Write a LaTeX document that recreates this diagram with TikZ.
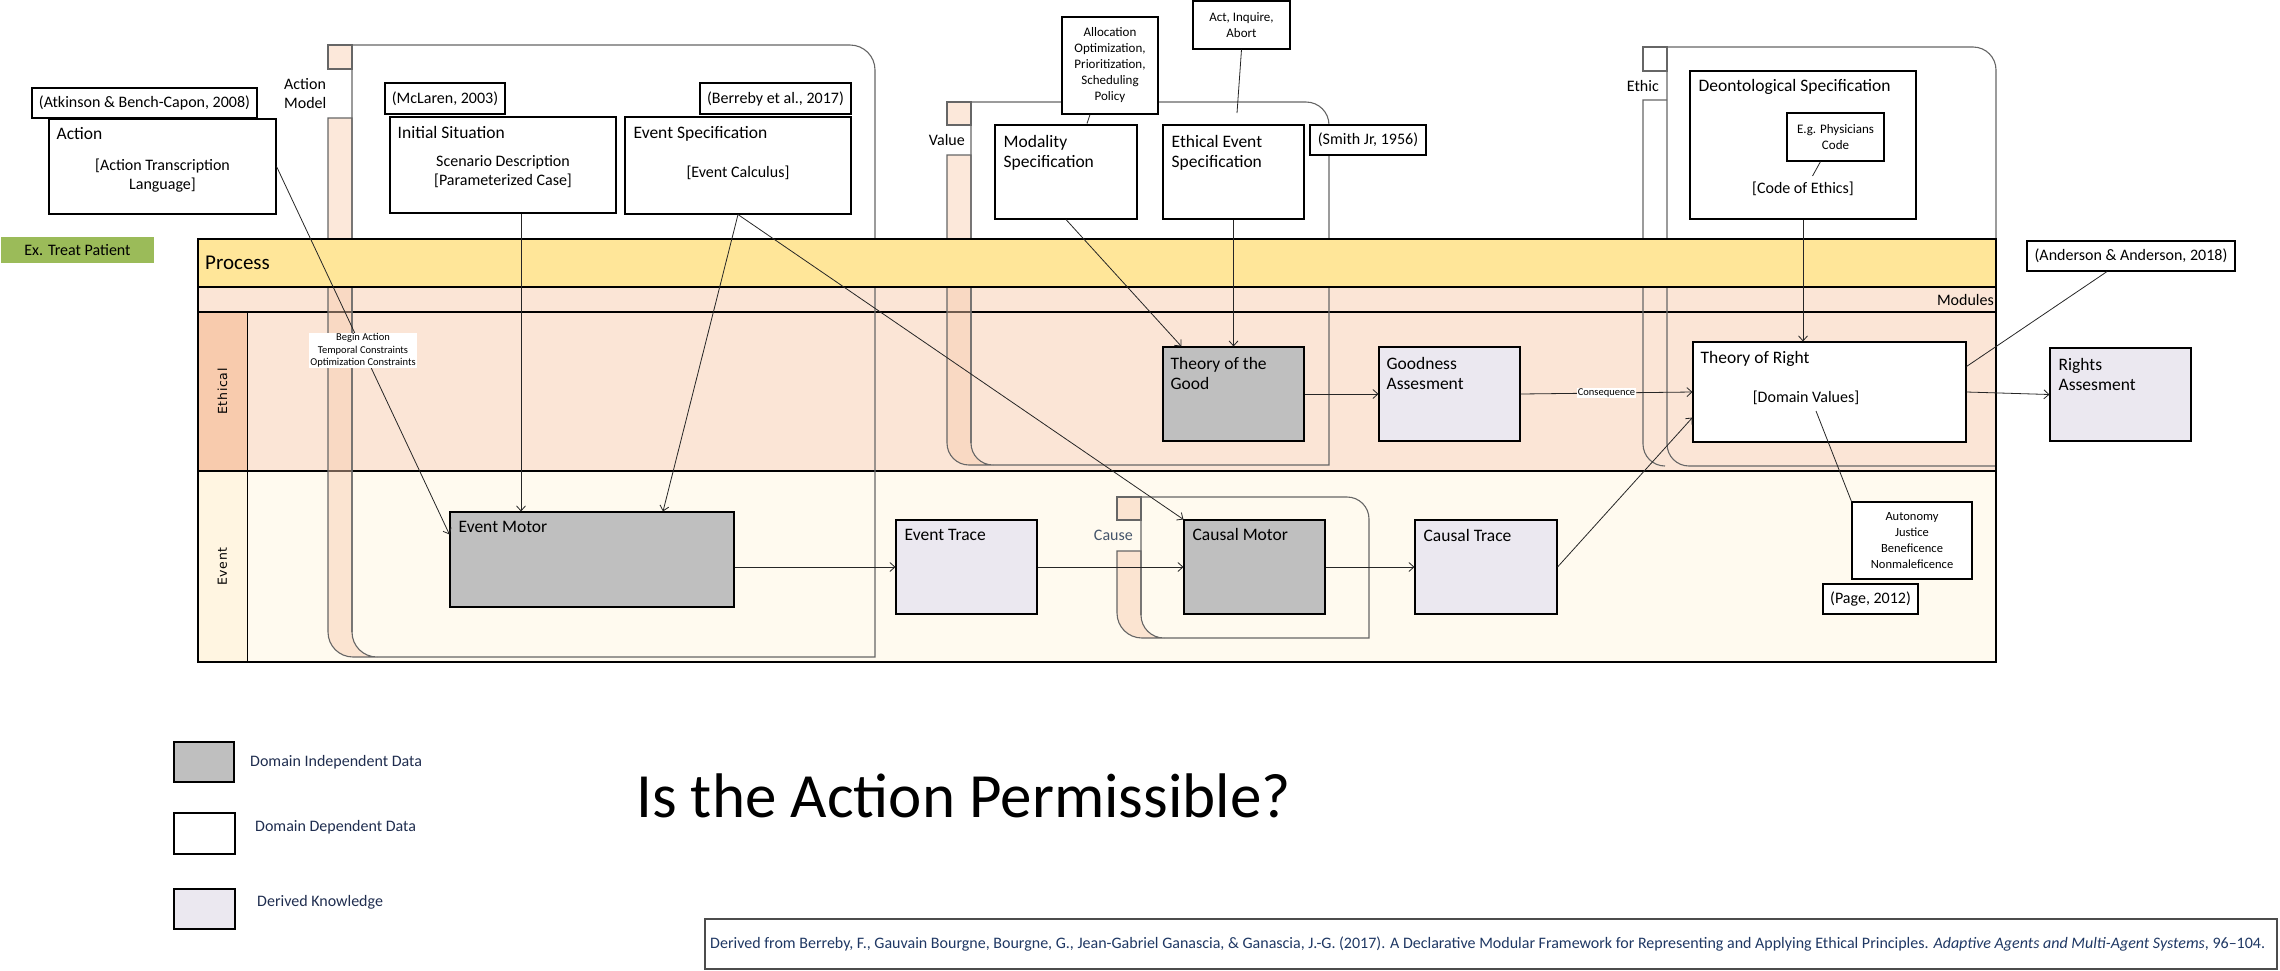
\documentclass[tikz,border=0pt]{standalone}
\usepackage{fontspec}
\setmainfont{Carlito}
\newfontfamily\lanefont[LetterSpace=6]{DejaVu Sans}
\usetikzlibrary{arrows.meta,calc}
\definecolor{procY}{HTML}{FFE699}
\definecolor{lanePeach}{HTML}{FBE5D6}
\definecolor{hdrPeach}{HTML}{F8CBAD}
\definecolor{laneCream}{HTML}{FFFAEF}
\definecolor{hdrCream}{HTML}{FFF5E1}
\definecolor{grayD}{HTML}{BFBFBF}
\definecolor{lav}{HTML}{EBE8F0}
\definecolor{treatG}{HTML}{9BBB59}
\definecolor{causeC}{HTML}{44546A}
\definecolor{citeC}{HTML}{1F3864}
\definecolor{legC}{HTML}{1F2D4F}
\begin{document}
\begin{tikzpicture}[x=1pt,y=-1pt,
  box/.style={draw=black, line width=1.1pt, inner sep=0pt, fill=white},
  gbox/.style={box, fill=grayD},
  lbox/.style={box, fill=lav},
  ttl/.style={font=\fontsize{17.5}{19.5}\selectfont, anchor=north west, inner sep=0pt, align=left},
  bodytxt/.style={font=\fontsize{16}{19}\selectfont, inner sep=0pt, align=center},
  refbox/.style={box, font=\fontsize{16}{19}\selectfont},
  smalltxt/.style={box, font=\fontsize{13}{16}\selectfont, align=center},
  tinylbl/.style={fill=white, inner sep=1pt, font=\fontsize{10.5}{12.5}\selectfont, align=center},
  conn/.style={line width=0.8pt, draw=black!85},
  arr/.style={conn, -{Straight Barb[length=5pt,width=9pt]}},
  cont/.style={draw=black!60, line width=1.1pt},
  stripc/.style={fill=hdrPeach, fill opacity=0.45, draw=black!60, line width=1.1pt},
  lanelbl/.style={font=\lanefont\fontsize{12.5}{14}\selectfont, inner sep=0pt},
  contlbl/.style={font=\fontsize{16}{19}\selectfont, inner sep=0pt, align=left},
  legtxt/.style={font=\fontsize{16}{19}\selectfont, inner sep=0pt, text=legC}
]
\useasboundingbox (0,0) rectangle (2280,970);

% ---------------- lanes ----------------
\fill[lanePeach] (198,287) rectangle (1996,471);
\fill[hdrPeach] (198,312) rectangle (247,471);
\fill[laneCream] (198,471) rectangle (1996,662);
\fill[hdrCream] (198,471) rectangle (247,662);
\draw[line width=1pt] (247,312) -- (247,662);
\draw[line width=1.5pt] (198,312) -- (1996,312);
\draw[line width=1.5pt] (198,471) -- (1996,471);
\node[lanelbl, rotate=90] (ethL) at (222.5,391.5) {Ethical};
\node[lanelbl, rotate=90] (evL) at (222.5,566.5) {Event};

% ---------------- containers ----------------
% Action Model
\filldraw[stripc] (328,118) -- (352,118) -- (352,632) to[out=-90,in=180] (377,657) -- (353,657) to[out=180,in=-90] (328,632) -- cycle;
\filldraw[stripc] (328,45) rectangle (352,69);
\draw[cont] (352,632) -- (352,45) -- (850,45) to[out=0,in=90] (875,70) -- (875,657) -- (377,657);
\node[contlbl, anchor=west] (amL) at (284,94) {Action\\Model};
% Value
\filldraw[stripc] (947,155) -- (971,155) -- (971,443) to[out=-90,in=180] (993,465) -- (969,465) to[out=180,in=-90] (947,443) -- cycle;
\filldraw[stripc] (947,102) rectangle (971,125);
\draw[cont] (971,443) -- (971,102) -- (1306,102) to[out=0,in=90] (1329,125) -- (1329,465) -- (993,465);
\node[contlbl, anchor=east] (valL) at (965,140) {Value};
% Cause
\filldraw[stripc] (1117,551) -- (1141,551) -- (1141,615) to[out=-90,in=180] (1164,638) -- (1142,638) to[out=180,in=-90] (1117,613) -- cycle;
\filldraw[stripc] (1117,497) rectangle (1141,520);
\draw[cont] (1141,615) -- (1141,497) -- (1347,497) to[out=0,in=90] (1369,519) -- (1369,638) -- (1164,638);
\node[contlbl, anchor=east, text=causeC] (cauL) at (1133,535) {Cause};
% Ethic
\draw[cont] (1667,100) -- (1643,100) -- (1643,444) to[out=-90,in=180] (1665,466);
\draw[cont] (1643,47) rectangle (1667,71);
\draw[cont] (1667,444) -- (1667,47) -- (1973,47) to[out=0,in=90] (1996,70) -- (1996,239);
\draw[cont] (1667,444) to[out=-90,in=180] (1689,466) -- (1996,466);
\node[contlbl, anchor=east] (ethicL) at (1659,86) {Ethic};

% ---------------- process band & frame ----------------
\filldraw[fill=procY, draw=black, line width=1.5pt] (198,239) rectangle (1996,287);
\node[anchor=west, inner sep=0pt, font=\fontsize{21}{24}\selectfont] (procL) at (205,263) {Process};
\node[anchor=east, inner sep=0pt, font=\fontsize{16}{19}\selectfont] (modL) at (1994,300) {Modules};
\draw[line width=1.5pt] (198,239) rectangle (1996,662);

\node[fill=treatG, minimum width=153pt, minimum height=26pt, inner sep=0pt, font=\fontsize{16}{19}\selectfont] (treat) at (77.5,250) {Ex. Treat Patient};

% ---------------- top boxes ----------------
\node[refbox, minimum width=225pt, minimum height=30pt] (atk) at (144.5,103) {(Atkinson \& Bench-Capon, 2008)};
\node[box, minimum width=227pt, minimum height=95pt] (action) at (162.5,166.5) {};
\node[ttl] (actionT) at ($(action.north west)+(8,9)$) {Action};
\node[bodytxt] (actionB) at ($(action.center)+(0,9)$) {[Action Transcription\\Language]};

\node[refbox, minimum width=120pt, minimum height=31pt] (mcl) at (445,98.5) {(McLaren, 2003)};
\node[box, minimum width=226pt, minimum height=96pt] (init) at (503,165) {};
\node[ttl] (initT) at ($(init.north west)+(8,9.5)$) {Initial Situation};
\node[bodytxt] (initB) at ($(init.center)+(0,7)$) {Scenario Description\\[0pt][Parameterized Case]};

\node[refbox, minimum width=151pt, minimum height=31pt] (ber) at (775.5,98.5) {(Berreby et al., 2017)};
\node[box, minimum width=226pt, minimum height=97pt] (evspec) at (738,165.5) {};
\node[ttl] (evspecT) at ($(evspec.north west)+(9,10)$) {Event Specification};
\node[bodytxt] (evspecB) at ($(evspec.center)+(0,7.5)$) {[Event Calculus]};

\node[smalltxt, minimum width=96pt, minimum height=97pt] (alloc) at (1110,65.5) {Allocation\\Optimization,\\Prioritization,\\Scheduling\\Policy};
\node[smalltxt, minimum width=97pt, minimum height=48pt] (act) at (1241.5,25) {Act, Inquire,\\Abort};
\node[box, minimum width=142pt, minimum height=94pt] (modal) at (1066,172) {};
\node[ttl] (modalT) at ($(modal.north west)+(9,11)$) {Modality\\Specification};
\node[box, minimum width=141pt, minimum height=94pt] (ees) at (1233.5,172) {};
\node[ttl] (eesT) at ($(ees.north west)+(9,11)$) {Ethical Event\\Specification};
\node[refbox, minimum width=116pt, minimum height=30pt] (smith) at (1368,140) {(Smith Jr, 1956)};

\node[box, minimum width=226pt, minimum height=148pt] (deont) at (1803,145) {};
\node[ttl] (deontT) at ($(deont.north west)+(9,9)$) {Deontological Specification};
\node[smalltxt, minimum width=97pt, minimum height=48pt] (phys) at (1835.5,137) {E.g. Physicians\\Code};
\node[bodytxt] (coe) at ($(deont.center)+(0,44)$) {[Code of Ethics]};
\node[refbox, minimum width=208pt, minimum height=30pt] (and) at (2131,256) {(Anderson \& Anderson, 2018)};

% ---------------- lane boxes ----------------
\node[gbox, minimum width=284pt, minimum height=95pt] (em) at (592,559.5) {};
\node[ttl] (emT) at ($(em.north west)+(9,10)$) {Event Motor};
\node[lbox, minimum width=141pt, minimum height=94pt] (et) at (966.5,567) {};
\node[ttl] (etT) at ($(et.north west)+(9,10)$) {Event Trace};
\node[gbox, minimum width=141pt, minimum height=94pt] (cm) at (1254.5,567) {};
\node[ttl] (cmT) at ($(cm.north west)+(9,9)$) {Causal Motor};
\node[lbox, minimum width=142pt, minimum height=94pt] (ct) at (1486,567) {};
\node[ttl] (ctT) at ($(ct.north west)+(9,10)$) {Causal Trace};

\node[gbox, minimum width=141pt, minimum height=94pt] (tog) at (1233.5,394) {};
\node[ttl] (togT) at ($(tog.north west)+(8,11)$) {Theory of the\\Good};
\node[lbox, minimum width=141pt, minimum height=94pt] (good) at (1449.5,394) {};
\node[ttl] (goodT) at ($(good.north west)+(8,11)$) {Goodness\\Assesment};
\node[box, minimum width=273pt, minimum height=100pt] (tor) at (1829.5,392) {};
\node[ttl] (torT) at ($(tor.north west)+(8,10)$) {Theory of Right};
\node[bodytxt] (dv) at ($(tor.center)+(-23.5,6)$) {[Domain Values]};
\node[lbox, minimum width=141pt, minimum height=93pt] (rights) at (2120.5,394.5) {};
\node[ttl] (rightsT) at ($(rights.north west)+(9,11)$) {Rights\\Assesment};
\node[smalltxt, font=\fontsize{12.5}{16}\selectfont, minimum width=120pt, minimum height=77pt] (auto) at (1912,540.5) {Autonomy\\Justice\\Beneficence\\Nonmaleficence};
\node[refbox, minimum width=95pt, minimum height=30pt] (page) at (1870.5,599) {(Page, 2012)};

% ---------------- connectors ----------------
\draw[arr] (action.east) -- node[tinylbl, pos=0.5] (beginlbl) {Begin Action\\Temporal Constraints\\Optimization Constraints} ($(em.north west)+(0,23)$);
\draw[arr] ([xshift=18pt]init.south) -- ([xshift=18pt]init.south |- em.north);
\draw[arr] (evspec.south) -- ($(em.north)+(71,0)$);
\draw[arr] (evspec.south) -- (cm.north west);
\draw[arr] (modal.south) -- ($(tog.north west)+(19,0)$);
\draw[arr] (ees.south) -- (tog.north);
\draw[conn] ($(alloc.south)+(-20,0)$) -- ($(modal.north)+(21,-1)$);
\coordinate (actEnd) at (1237,113);
\draw[conn] (act.south) -- (actEnd);
\draw[arr] (deont.south) -- (deont.south |- tor.north);
\coordinate (coeTop) at (1812.5,176);
\draw[conn] ($(phys.south)+(-15,0)$) -- (coeTop);
\draw[arr] (tog.east) -- (good.west);
\draw[arr] (good.east) -- node[tinylbl, pos=0.5] (conseq) {Consequence} (tor.west);
\draw[arr] (em.east |- et.west) -- (et.west);
\draw[arr] (et.east) -- (cm.west);
\draw[arr] (cm.east) -- (ct.west);
\draw[arr] (ct.east) -- ($(tor.south west)+(0,-25)$);
\draw[arr] (tor.east) -- (rights.west);
\draw[conn] ($(tor.north east)+(0,25)$) -- ($(and.south)+(-24,0)$);
\coordinate (dvEnd) at (1816,411);
\draw[conn] (dvEnd) -- (auto.north west);

% ---------------- legend & title ----------------
\node[gbox, minimum width=60pt, minimum height=40pt] (leg1) at (204,762) {};
\node[legtxt, anchor=west] (leg1t) at (250,762) {Domain Independent Data};
\node[box, minimum width=61pt, minimum height=41pt] (leg2) at (204.5,833.5) {};
\node[legtxt, anchor=west] (leg2t) at (255,827) {Domain Dependent Data};
\node[lbox, minimum width=61pt, minimum height=40pt] (leg3) at (204.5,909) {};
\node[legtxt, anchor=west] (leg3t) at (257,902) {Derived Knowledge};

\node[anchor=base west, inner sep=0pt, font=\fontsize{63}{70}\selectfont] (quest) at (636,817) {Is the Action Permissible?};

\node[draw=black!70, line width=1.2pt, fill=white, minimum width=1572pt, minimum height=50pt, inner sep=0pt] (citeBox) at (1491,944) {};
\node[anchor=west, inner sep=0pt, text=citeC, font=\fontsize{16}{19}\selectfont] (citeT) at (710,944) {Derived from Berreby, F., Gauvain Bourgne, Bourgne, G., Jean-Gabriel Ganascia, \& Ganascia, J.-G. (2017). A Declarative Modular Framework for Representing and Applying Ethical Principles. \textit{Adaptive Agents and Multi-Agent Systems}, 96–104.};
\end{tikzpicture}
\end{document}
